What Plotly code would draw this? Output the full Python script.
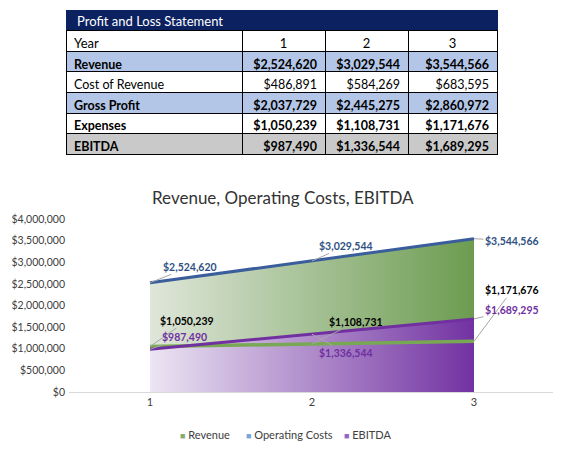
import plotly.graph_objects as go

# data
years = [1, 2, 3]
revenue = [2524620, 3029544, 3544566]
cost_of_revenue = [486891, 584269, 683595]
gross_profit = [2037729, 2445275, 2860972]
expenses = [1050239, 1108731, 1171676]
ebitda = [987490, 1336544, 1689295]

row_labels = ["Revenue", "Cost of Revenue", "Gross Profit", "Expenses", "EBITDA"]
bold_rows = [True, False, True, True, True]
y_ticks = [0, 500000, 1000000, 1500000, 2000000, 2500000, 3000000, 3500000, 4000000]
legend_names = ["Revenue", "Operating Costs", "EBITDA"]

FONT = "Lato"
NAVY = "#0c2260"
W, H = 561, 453
PAGE_PAD = 8  # the page body adds an 8px margin


def px(x):
    return (x - PAGE_PAD) / W


def py(y):
    return 1 - (y - PAGE_PAD) / H


def money(v):
    return f"${v:,}"


# build the table columns (one list per column)
rows = [revenue, cost_of_revenue, gross_profit, expenses, ebitda]
columns = [row_labels]
for i in range(len(years)):
    columns.append([money(r[i]) for r in rows])

# two header rows: the title bar (text put on as an annotation) and the Year row
header_vals = [["", "Year"]] + [["", str(y)] for y in years]

row_fill = ["#b4c6e7", "white", "#b4c6e7", "white", "#c9c9c9"]
row_weight = [700 if b else 400 for b in bold_rows]

fig = go.Figure()

fig.add_trace(go.Table(
    domain=dict(x=[px(66), px(497)], y=[py(170), py(10)]),
    columnwidth=[176, 83, 83, 89],
    header=dict(
        values=header_vals,
        fill_color=[[NAVY, "white"]] * 4,
        line=dict(color=[[NAVY, "black"]] * 4, width=1),
        font=dict(family=FONT, size=13, color="black"),
        align=["left", "center", "center", "center"],
        height=20.6,
    ),
    cells=dict(
        values=columns,
        fill_color=[row_fill] * 4,
        line=dict(color="black", width=1),
        font=dict(family=FONT, size=12.5, color="black"),
        align=["left", "right", "right", "right"],
        height=20.6,
    ),
))
# plotly.js reads per-cell font weight as [column][row]; the python validator only takes 1D,
# so put it straight into the trace data
fig._data[0]["cells"]["font"]["weight"] = [row_weight] * 4

fig.add_annotation(
    x=px(75), y=py(20.5), xref="paper", yref="paper",
    xanchor="left", yanchor="middle", showarrow=False,
    text="Profit and Loss Statement",
    font=dict(family=FONT, size=13, color="white"),
)

# areas with gradient fill
fig.add_trace(go.Scatter(
    x=years, y=revenue, mode="lines", line=dict(width=0),
    fill="tozeroy",
    fillgradient=dict(type="horizontal", colorscale=[[0, "#dfe6da"], [1, "#6c9c50"]]),
    showlegend=False, hoverinfo="skip",
))
fig.add_trace(go.Scatter(
    x=years, y=ebitda, mode="lines", line=dict(width=0),
    fill="tozeroy",
    fillgradient=dict(type="horizontal", colorscale=[[0, "#ece5f3"], [1, "#7232a2"]]),
    showlegend=False, hoverinfo="skip",
))

# lines
fig.add_trace(go.Scatter(x=years, y=revenue, mode="lines", name="Operating Costs",
                         line=dict(color="#3a5d9c", width=3), showlegend=False))
fig.add_trace(go.Scatter(x=years, y=expenses, mode="lines", name="Revenue",
                         line=dict(color="#79a854", width=3.5), showlegend=False))
fig.add_trace(go.Scatter(x=years, y=ebitda, mode="lines", name="EBITDA",
                         line=dict(color="#7030a0", width=3), showlegend=False))

# data labels with leader lines
label_offsets = {
    "rev": [(40, -16), (34, -15), (38, 2)],
    "exp": [(37, -26), (44, -22), (38, -51)],
    "ebi": [(34, -12), (34, 19), (38, -9)],
}
series = [("rev", revenue, "#2f5283"), ("exp", expenses, "black"), ("ebi", ebitda, "#7030a0")]
for key, vals, color in series:
    for x, v, (ax, ay) in zip(years, vals, label_offsets[key]):
        fig.add_annotation(
            x=x, y=v, text=f"<b>{money(v)}</b>",
            showarrow=True, arrowhead=0, arrowwidth=1, arrowcolor="#a6a6a6",
            ax=ax, ay=ay, standoff=0,
            font=dict(family=FONT, size=10.5, color=color),
        )

fig.add_annotation(
    x=px(283), y=py(197), xref="paper", yref="paper",
    text="Revenue, Operating Costs, EBITDA", showarrow=False,
    font=dict(family=FONT, size=17, color="#333333"),
)

# compact legend like the Excel one: small square glyph right next to the name
legend_colors = ["#86ab6c", "#7aa5da", "#9465c2"]
legend_x = [178, 244, 342]
for name, color, lx in zip(legend_names, legend_colors, legend_x):
    fig.add_annotation(
        x=px(lx), y=py(434), xref="paper", yref="paper",
        xanchor="left", yanchor="middle", showarrow=False,
        text=f"<span style='color:{color};font-size:9px'>■</span> {name}",
        font=dict(family=FONT, size=11, color="#404040"),
    )

fig.update_layout(
    width=W, height=H,
    margin=dict(l=0, r=0, t=0, b=0),
    paper_bgcolor="white", plot_bgcolor="white",
    font=dict(family=FONT, size=11, color="#404040"),
    showlegend=False,
    xaxis=dict(
        domain=[px(69), px(555)], range=[0.5, 3.5], automargin=False,
        tickvals=years, ticktext=[str(y) for y in years],
        showgrid=False, zeroline=False, showline=True, linecolor="#d9d9d9",
        ticks="", tickfont=dict(size=11, color="#404040"),
    ),
    yaxis=dict(
        domain=[py(392), py(219)], range=[0, 4000000], automargin=False,
        tickvals=y_ticks, ticktext=[money(t) for t in y_ticks],
        showgrid=False, zeroline=False, showline=False, ticks="",
        ticklabelstandoff=3,
        tickfont=dict(size=10.5, color="#404040"),
    ),
)

fig.write_html("out.html")
